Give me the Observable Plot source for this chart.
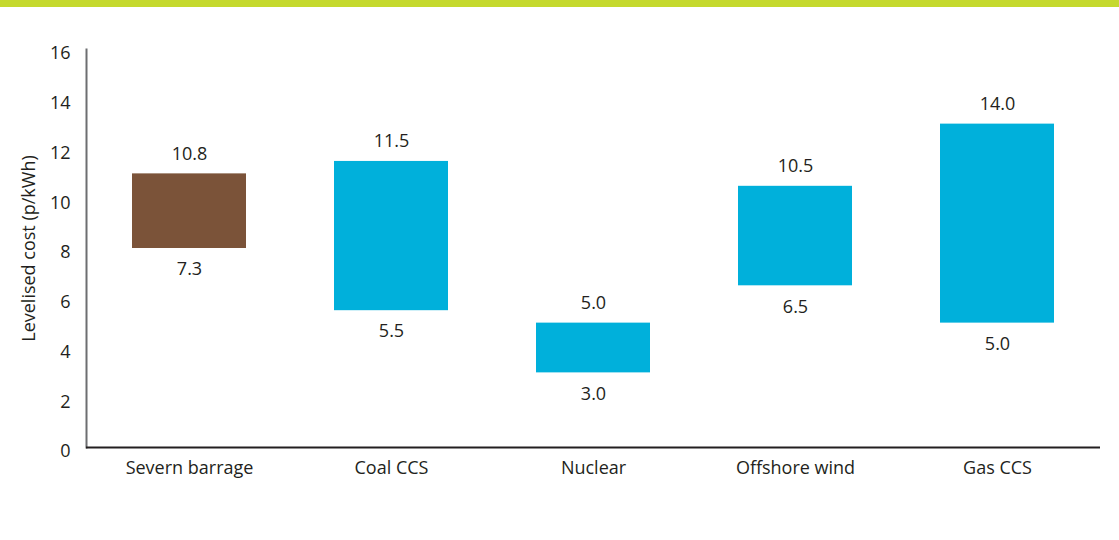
<!DOCTYPE html>
<html><head><meta charset="utf-8">
<script src="https://cdn.jsdelivr.net/npm/d3@7"></script>
<script src="https://cdn.jsdelivr.net/npm/@observablehq/plot@0.6"></script>
<style>
body{margin:0;background:#fff;font-family:"Open Sans",sans-serif}
#topbar{height:7px;background:#c5d92e}
</style>
</head><body><div id="topbar"></div><div id="chart"></div>
<script>
const categories = ["Severn barrage", "Coal CCS", "Nuclear", "Offshore wind", "Gas CCS"];
const barLow = [8, 5.5, 3, 6.5, 5];
const barHigh = [11, 11.5, 5, 10.5, 13];
const labelHigh = ["10.8", "11.5", "5.0", "10.5", "14.0"];
const labelLow = ["7.3", "5.5", "3.0", "6.5", "5.0"];
const barColors = ["#7b5339", "#00b0db", "#00b0db", "#00b0db", "#00b0db"];
const yTicks = [0, 2, 4, 6, 8, 10, 12, 14, 16];
const yLabel = "Levelised cost (p/kWh)";

const data = categories.map((c, i) => ({cat: c, low: barLow[i], high: barHigh[i], hi: labelHigh[i], lo: labelLow[i], color: barColors[i]}));

const chart = Plot.plot({
  width: 1119, height: 533,
  marginTop: 42, marginBottom: 93, marginLeft: 86, marginRight: 19,
  style: {fontFamily: "'Open Sans', sans-serif", fontSize: "18px", color: "#231f20", background: "#fff"},
  x: {domain: categories, paddingInner: 0.438, paddingOuter: 0.219, label: null},
  y: {domain: [0, 16], label: yLabel},
  color: {type: "identity"},
  marks: [
    Plot.barY(data, {x: "cat", y1: "low", y2: "high", fill: "color"}),
    Plot.text(data, {x: "cat", y: "high", text: "hi", dy: -20, fill: "#231f20", fontSize: 18}),
    Plot.text(data, {x: "cat", y: "low", text: "lo", dy: 21, fill: "#231f20", fontSize: 18}),
    Plot.axisY({ticks: yTicks, tickSize: 0, tickPadding: 16, dy: 4, fontSize: 18, label: yLabel, labelAnchor: "center", labelOffset: 64, labelArrow: "none"}),
    Plot.axisX({tickSize: 0, tickPadding: 14, fontSize: 18, label: null}),
    Plot.frame({anchor: "left", stroke: "#6d6e71", strokeWidth: 2}),
    Plot.ruleY([0], {stroke: "#231f20", strokeWidth: 2})
  ]
});
document.getElementById("chart").appendChild(chart);
</script>
</body></html>
